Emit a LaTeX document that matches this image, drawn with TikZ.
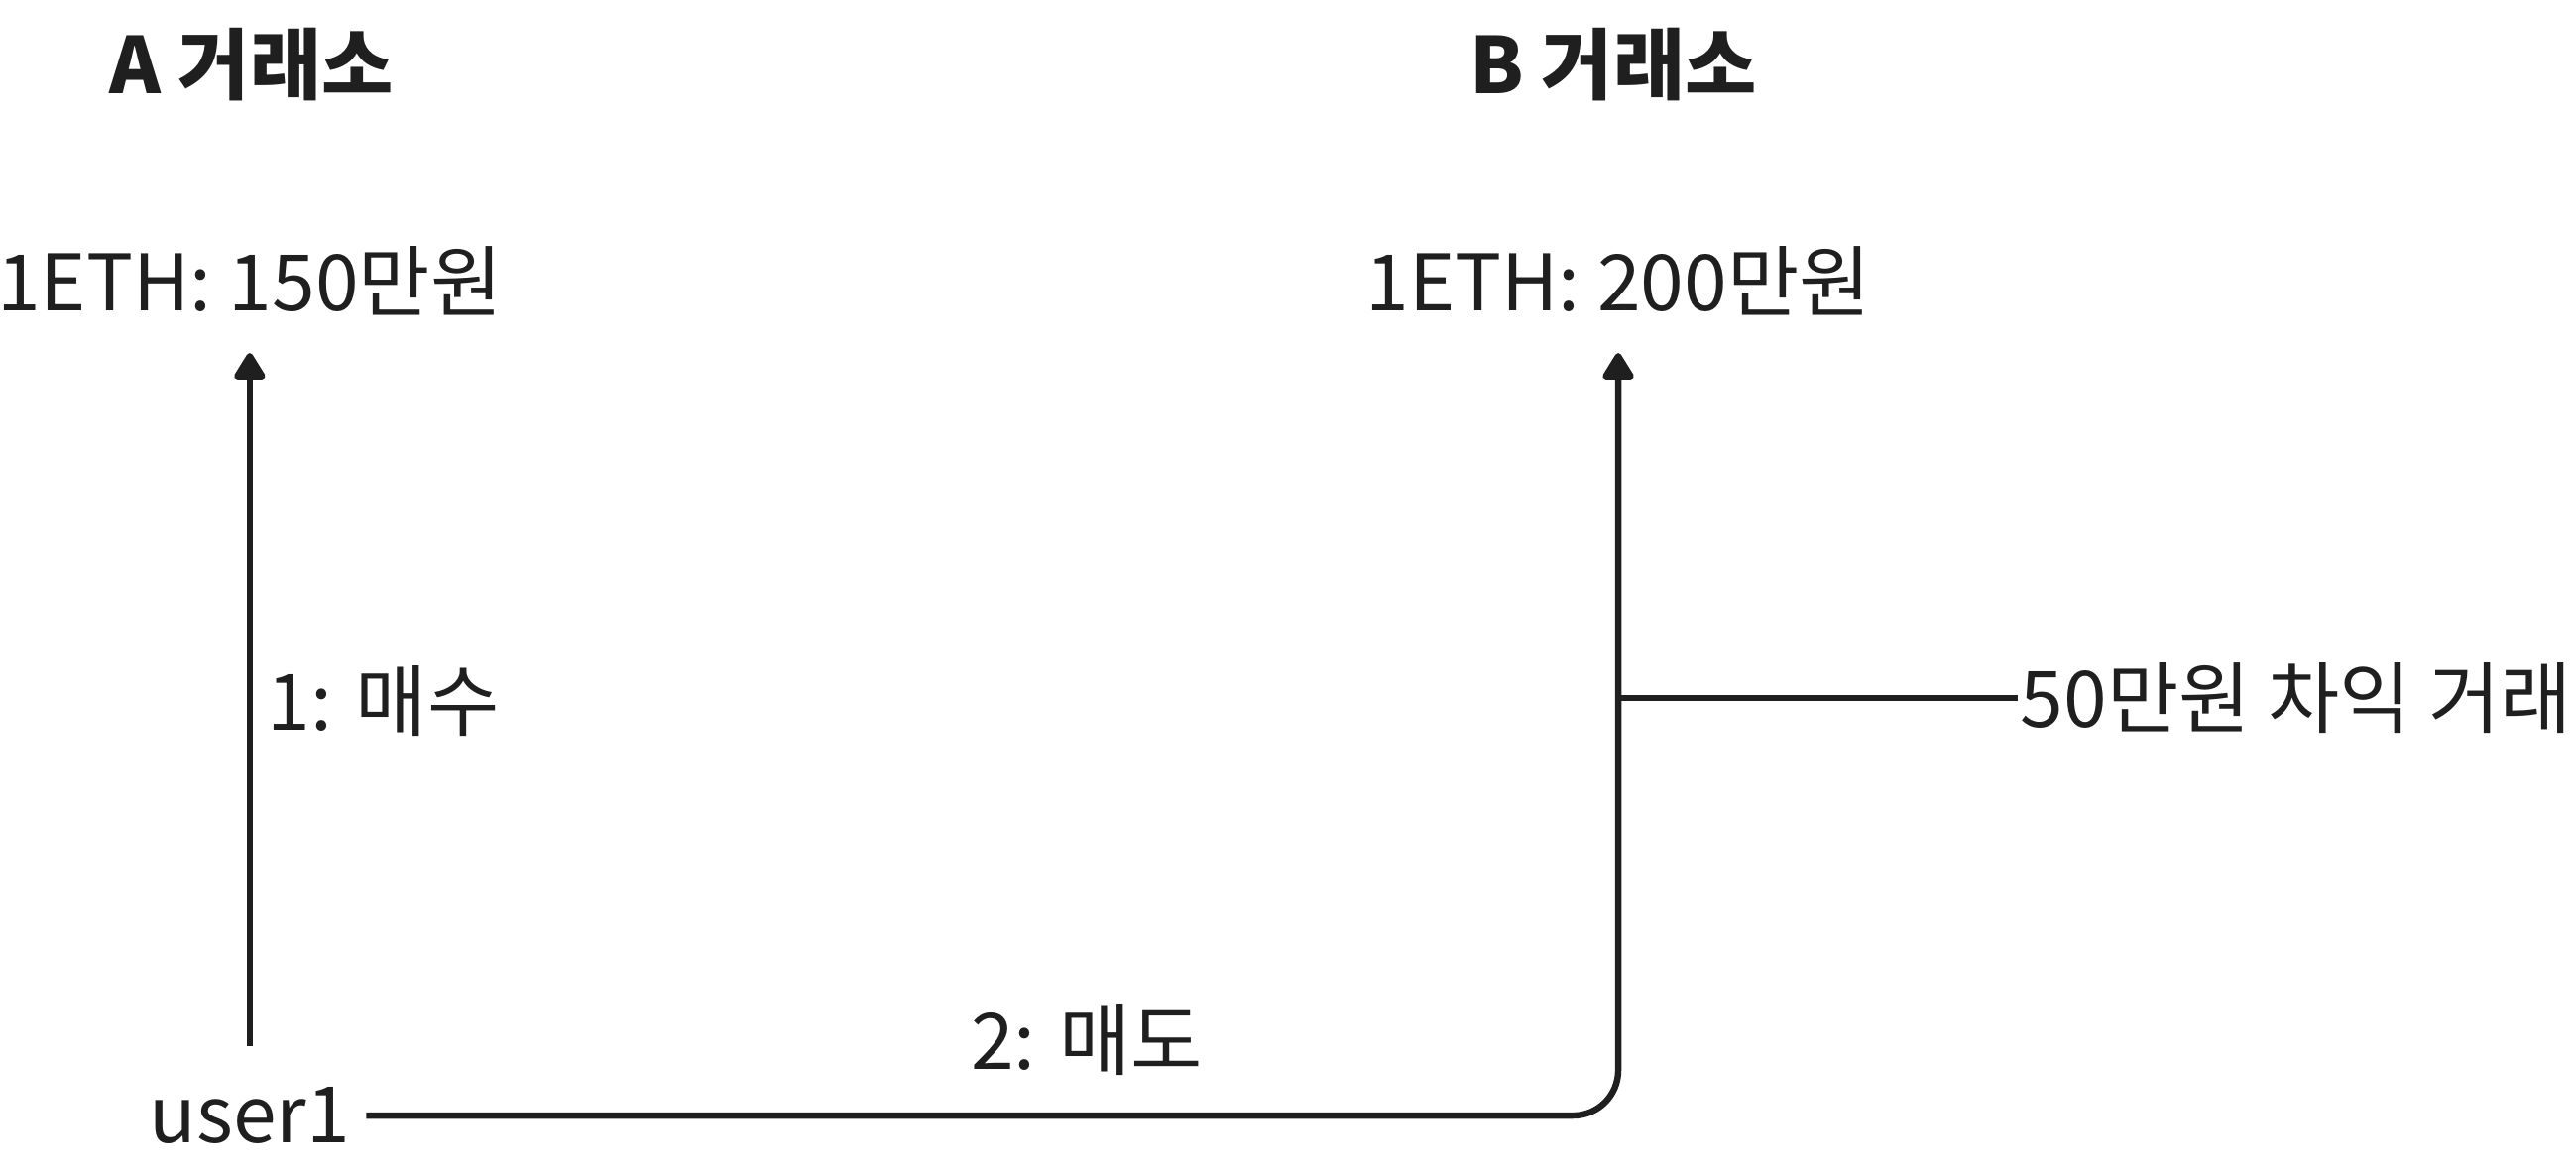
\documentclass[tikz,border=0pt]{standalone}
\usepackage{fontspec}
\setmainfont{Noto Sans CJK KR}
\usetikzlibrary{arrows.meta}
\definecolor{ink}{RGB}{31,31,31}

\begin{document}
\begin{tikzpicture}[x=0.02cm,y=-0.02cm,line width=2.2pt,color=ink,
  every node/.style={inner sep=0pt,font=\fontsize{27}{32}\selectfont},
  title/.style={font=\fontsize{27}{32}\selectfont\bfseries},
  up/.style={-{Triangle[length=0.36cm,width=0.42cm,round]}}]
\useasboundingbox (0,0) rectangle (1568,714);

\node[title] (xa) at (153,39) {A 거래소};
\node[title] (xb) at (982,39) {B 거래소};
\node (pa) at (152,171) {1ETH: 150만원};
\node (pb) at (985,171) {1ETH: 200만원};
\node (user) at (152,679) {user1};
\node[anchor=west] (gain) at (1228,425) {50만원 차익 거래};

\draw[up,shorten <=0.46cm,shorten >=0.42cm] (user.north) -- (user.north |- pa.south)
  node[pos=0.5,right=0.18cm] (buy) {1: 매수};
\draw[up,rounded corners=0.55cm,shorten <=0.16cm,shorten >=0.42cm] (user.east) -| (pb.south)
  node[pos=0.29,above=0.45cm] (sell) {2: 매도};
\coordinate (tap) at (pb.south |- gain.west);
\draw (tap) -- (gain.west);
\end{tikzpicture}
\end{document}
